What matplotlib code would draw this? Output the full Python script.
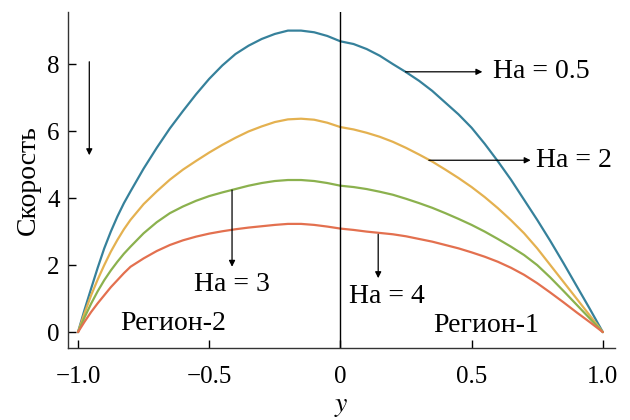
import matplotlib.pyplot as plt
import numpy as np

plt.rcParams['font.family'] = 'serif'
plt.rcParams['font.serif'] = ['Liberation Serif', 'DejaVu Serif']
plt.rcParams['mathtext.fontset'] = 'stix'

# velocity profiles: region 2 (y < 0) and region 1 (y > 0)
y_r2 = [-1.0, -0.975, -0.95, -0.925, -0.9, -0.875, -0.85, -0.825, -0.8, -0.75,
        -0.7, -0.65, -0.6, -0.55, -0.5, -0.45, -0.4, -0.35, -0.3, -0.25,
        -0.2, -0.15, -0.1, -0.05, 0.0]
y_r1 = [0.0, 0.05, 0.1, 0.15, 0.2, 0.25, 0.3, 0.35, 0.4, 0.45, 0.5,
        0.55, 0.6, 0.65, 0.7, 0.75, 0.8, 0.85, 0.9, 0.95, 1.0]

u_ha05_r2 = [0, 0.67, 1.3, 1.92, 2.5, 3.0, 3.45, 3.85, 4.2, 4.88,
             5.5, 6.08, 6.6, 7.1, 7.56, 7.96, 8.3, 8.55, 8.75, 8.9,
             9.0, 9.0, 8.95, 8.84, 8.68]
u_ha2_r2 = [0, 0.57, 1.1, 1.57, 2.0, 2.4, 2.75, 3.07, 3.35, 3.82,
            4.2, 4.55, 4.85, 5.11, 5.36, 5.59, 5.8, 5.99, 6.14, 6.27,
            6.35, 6.37, 6.34, 6.25, 6.12]
u_ha3_r2 = [0, 0.44, 0.85, 1.22, 1.55, 1.84, 2.1, 2.34, 2.55, 2.95,
            3.28, 3.55, 3.75, 3.92, 4.06, 4.17, 4.27, 4.37, 4.45, 4.51,
            4.54, 4.54, 4.51, 4.45, 4.37]
u_ha4_r2 = [0, 0.31, 0.6, 0.86, 1.1, 1.34, 1.55, 1.76, 1.95, 2.2,
            2.42, 2.6, 2.74, 2.85, 2.94, 3.01, 3.07, 3.12, 3.16, 3.2,
            3.23, 3.23, 3.2, 3.15, 3.09]

u_ha05_r1 = [8.68, 8.6, 8.45, 8.25, 8.0, 7.76, 7.5, 7.2, 6.85, 6.5, 6.1,
             5.62, 5.1, 4.55, 3.95, 3.35, 2.72, 2.06, 1.38, 0.7, 0]
u_ha2_r1 = [6.12, 6.05, 5.95, 5.83, 5.68, 5.5, 5.3, 5.09, 4.85, 4.6, 4.33,
            4.03, 3.7, 3.34, 2.95, 2.5, 2.0, 1.5, 1.0, 0.5, 0]
u_ha3_r1 = [4.37, 4.33, 4.27, 4.19, 4.1, 3.98, 3.85, 3.71, 3.55, 3.38, 3.2,
            3.0, 2.78, 2.55, 2.3, 2.0, 1.63, 1.23, 0.82, 0.41, 0]
u_ha4_r1 = [3.09, 3.05, 3.0, 2.96, 2.92, 2.86, 2.78, 2.7, 2.6, 2.5, 2.38,
            2.25, 2.1, 1.92, 1.71, 1.46, 1.18, 0.89, 0.59, 0.3, 0]

colors = ['#36819b', '#e4b150', '#8bb14e', '#e3704f']

fig = plt.figure(figsize=(6.3, 4.2), dpi=100)
ax = fig.add_axes([0.108, 0.171, 0.868, 0.80])

for r2, r1, c in zip([u_ha05_r2, u_ha2_r2, u_ha3_r2, u_ha4_r2],
                     [u_ha05_r1, u_ha2_r1, u_ha3_r1, u_ha4_r1], colors):
    ax.plot(y_r2 + y_r1[1:], r2 + r1[1:], color=c, lw=1.6,
            solid_joinstyle='round', solid_capstyle='round')

ax.axvline(0, color='k', lw=1.0)

arr = dict(arrowstyle='-|>', color='k', lw=0.9, mutation_scale=9, shrinkA=0, shrinkB=0)
fs = 18
fa = 20
ax.annotate('', xy=(-0.957, 5.28), xytext=(-0.957, 8.07), arrowprops=arr)
ax.annotate('', xy=(0.541, 7.77), xytext=(0.248, 7.77), arrowprops=arr)
ax.text(0.58, 7.77, 'Ha = 0.5', fontsize=fa, va='center', ha='left')
ax.annotate('', xy=(0.725, 5.13), xytext=(0.337, 5.13), arrowprops=arr)
ax.text(0.745, 5.13, 'Ha = 2', fontsize=fa, va='center', ha='left')
ax.annotate('', xy=(-0.413, 1.95), xytext=(-0.413, 4.24), arrowprops=arr)
ax.text(-0.413, 1.42, 'Ha = 3', fontsize=fa, va='center', ha='center')
ax.annotate('', xy=(0.144, 1.61), xytext=(0.144, 2.92), arrowprops=arr)
ax.text(0.178, 1.05, 'Ha = 4', fontsize=fa, va='center', ha='center')
ax.text(-0.637, 0.25, 'Регион-2', fontsize=fa, va='center', ha='center')
ax.text(0.556, 0.2, 'Регион-1', fontsize=fa, va='center', ha='center')

ax.set_xlim(-1.038, 1.046)
ax.set_ylim(-0.48, 9.55)
ax.set_xticks([-1.0, -0.5, 0, 0.5, 1.0])
ax.set_xticklabels(['\u22121.0', '\u22120.5', '0', '0.5', '1.0'])
ax.set_yticks([0, 2, 4, 6, 8])
ax.tick_params(direction='in', length=6, width=1, labelsize=fs)
ax.tick_params(axis='x', pad=13)
ax.tick_params(axis='y', pad=6)

for s in ['top', 'right']:
    ax.spines[s].set_visible(False)
for s in ['left', 'bottom']:
    ax.spines[s].set_linewidth(1.0)
    ax.spines[s].set_color('#333333')

ax.set_ylabel('Скорость', fontsize=fa)
ax.yaxis.set_label_coords(-0.05, 0.5)
ax.set_xlabel('$y$', fontsize=fa)
ax.xaxis.set_label_coords(0.5, -0.135)

fig.savefig('out.png', dpi=100)
